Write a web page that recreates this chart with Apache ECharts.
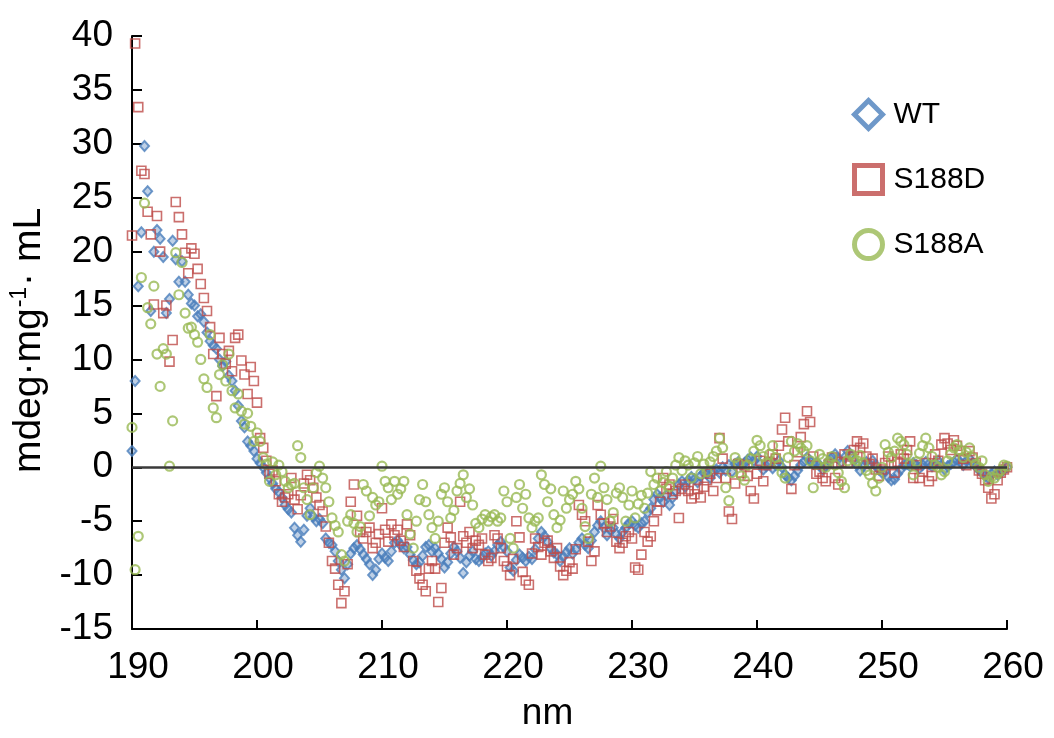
<!DOCTYPE html>
<html>
<head>
<meta charset="utf-8">
<script src="https://cdn.jsdelivr.net/npm/echarts@6/dist/echarts.min.js"></script>
<style>
html,body{margin:0;padding:0;background:#fff;}
#chart{width:1054px;height:738px;}
</style>
</head>
<body>
<div id="chart"></div>
<script>
// wavelength grid (nm): 190 to 260 in 0.25 nm steps
const waveStart = 190;
const waveStep = 0.25;
const seriesNames = ['WT', 'S188D', 'S188A'];
const xTicks = [190, 200, 210, 220, 230, 240, 250, 260];
const yTicks = [-15, -10, -5, 0, 5, 10, 15, 20, 25, 30, 35, 40];

// WT, one row per nm (x.00, x.25, x.50, x.75)
const wt = [
  1.5, 8.0, 16.8, 21.8,
  29.8, 25.6, 14.5, 20.0,
  22.0, 21.2, 19.5, 14.3,
  15.6, 21.0, 19.3, 17.2,
  19.1, 17.2, 16.0, 15.2,
  15.0, 14.0, 14.2, 13.5,
  12.5, 11.7, 11.3, 11.0,
  10.0, 9.4, 9.8, 8.5,
  8.0, 7.1, 5.7, 4.3,
  3.7, 2.4, 2.0, 1.5,
  0.8, 0.4, 0.0, -0.5,
  -1.0, -1.5, -2.0, -2.3,
  -2.8, -3.5, -3.9, -4.2,
  -5.6, -6.3, -6.9, -5.8,
  -4.5, -3.8, -4.6, -5.0,
  -4.8, -5.2, -6.6, -7.0,
  -7.2, -7.8, -8.7, -9.5,
  -10.3, -9.0, -8.0, -7.5,
  -7.2, -7.6, -8.1, -8.5,
  -9.0, -10.0, -9.5, -8.5,
  -8.0, -8.4, -8.7, -7.8,
  -7.0, -6.8, -7.2, -7.5,
  -7.4, -8.1, -8.6, -9.0,
  -8.8, -8.2, -7.4, -7.2,
  -7.8, -7.5, -8.0, -8.5,
  -9.3, -8.8, -8.0, -7.4,
  -7.8, -8.4, -9.8, -8.8,
  -8.2, -7.8, -8.5, -8.7,
  -8.4, -8.0, -7.8, -8.2,
  -7.8, -7.2, -6.9, -7.4,
  -7.8, -9.3, -9.6, -8.6,
  -8.1, -8.4, -8.7, -8.3,
  -8.5, -7.6, -6.6, -6.0,
  -6.4, -6.9, -7.5, -7.9,
  -8.1, -8.7, -8.3, -7.9,
  -7.5, -8.0, -7.6, -7.0,
  -6.6, -7.2, -7.5, -6.8,
  -6.0, -5.4, -5.0, -5.6,
  -6.3, -5.8, -5.6, -6.2,
  -6.6, -6.0, -5.6, -5.2,
  -5.0, -5.4, -5.6, -5.2,
  -5.0, -4.2, -3.8, -3.0,
  -2.5, -2.8, -3.2, -2.6,
  -3.5, -2.8, -2.2, -1.6,
  -1.3, -1.8, -1.2, -0.9,
  -1.1, -1.4, -0.8, -0.5,
  -0.6, -1.0, -0.4, -0.2,
  -0.5, 0.0, -0.3, 0.2,
  -0.4, 0.3, 0.5, 0.2,
  0.4, 0.7, 0.9, 0.6,
  1.0, 0.3, -0.2, 0.1,
  0.4, -0.1, 0.2, 0.6,
  0.0, -0.7, -1.0, -1.2,
  -0.8, -0.3, 0.2, 0.5,
  0.9, 0.6, 0.3, 0.4,
  0.2, -0.2, 0.1, 0.6,
  0.9, 1.2, 0.8, 0.5,
  0.9, 1.5, 1.1, 0.6,
  0.2, -0.3, 0.1, 0.5,
  0.3, 0.6, 0.2, -0.2,
  -0.5, -0.4, -0.9, -1.2,
  -1.1, -0.6, -0.2, 0.2,
  0.3, 0.1, 0.4, 0.2,
  -0.1, 0.2, 0.5, 0.3,
  0.1, 0.4, 0.6, 0.2,
  -0.2, 0.1, 0.3, 0.5,
  0.7, 0.5, 0.2, 0.6,
  0.8, 0.4, 0.1, -0.2,
  -0.5, -0.8, -1.0, -0.6,
  -0.4, -0.7, -0.5, -0.2,
  0.0
];

// S188D
const s188d = [
  21.5, 39.3, 33.4, 27.5,
  27.2, 23.7, 21.6, 15.1,
  23.3, 20.0, 14.3, 15.0,
  9.8, 11.8, 24.6, 23.2,
  21.6, 19.9, 18.0, 20.3,
  19.8, 18.4, 17.0, 15.7,
  14.5, 13.0, 10.5, 6.6,
  12.0, 10.5, 9.6, 10.8,
  8.9, 12.0, 12.3, 9.9,
  8.6, 6.8, 9.3, 8.0,
  6.0, 2.7, 1.8, 0.6,
  -0.6, -0.3, -1.3, -2.5,
  -3.2, -2.8, -2.5, -1.0,
  -3.0, -3.9, -2.6, -1.5,
  -0.7, -1.2, -1.9, -2.8,
  -3.5, -4.1, -5.5, -7.0,
  -8.7, -9.4, -10.9, -12.6,
  -11.5, -9.0, -3.2, -1.6,
  -4.5, -6.0, -6.6, -6.0,
  -5.6, -7.5, -7.0, -6.2,
  -3.8, -5.8, -6.9, -5.3,
  -6.3, -5.8, -6.8, -7.4,
  -5.3, -6.3, -8.7, -9.6,
  -10.3, -10.9, -11.5, -9.4,
  -8.7, -9.4, -12.5, -11.2,
  -7.0, -5.6, -6.5, -8.1,
  -7.5, -3.2, -6.4, -7.0,
  -6.0, -7.5, -6.8, -7.2,
  -6.6, -8.1, -8.7, -8.4,
  -6.3, -6.6, -7.5, -8.7,
  -9.2, -10.0, -8.5, -5.0,
  -6.5, -9.7, -10.5, -10.9,
  -8.0, -6.6, -7.4, -8.1,
  -7.0, -6.8, -7.8, -8.4,
  -7.5, -9.2, -10.0, -9.6,
  -8.8, -9.4, -7.6, -3.5,
  -4.4, -5.0, -6.9, -8.7,
  -7.8, -3.5, -4.4, -5.2,
  -6.0, -5.5, -4.8, -6.9,
  -7.5, -7.0, -6.4, -6.0,
  -6.6, -9.3, -9.5, -8.1,
  -6.0, -6.9, -6.4, -5.0,
  -4.0, -3.2, -1.0, -2.0,
  -1.6, -2.5, -2.2, -4.7,
  -2.0, -1.6, -2.2, -2.9,
  -2.5, -2.0, -2.8, -1.8,
  -1.2, -0.6, -2.2, -1.0,
  2.7, 0.8, -1.0, -4.1,
  -4.8, -1.5, 0.3, -0.5,
  0.2, -0.8, -2.2, -2.9,
  -0.6, 0.6, -1.3, 0.2,
  0.5, 1.2, 0.8, 2.0,
  3.5, 4.6, 2.4, -2.0,
  0.2, 1.4, 2.8, 4.0,
  5.2, 4.2, 1.0, -0.6,
  -0.4, -1.0, -1.3, 0.3,
  0.9, -1.0, -1.6, 0.5,
  1.2, 0.4, 1.0, 1.6,
  2.4, 1.8, 2.2, 1.0,
  0.3, 0.8, -0.2, -0.8,
  -0.2, 0.4, 1.0, 0.2,
  -0.5, 0.5, 1.2, 0.8,
  1.6, 2.4, -1.0, 0.2,
  -1.0, -0.4, 0.4, -1.3,
  -0.8, 1.2, 0.6, 2.1,
  2.7, 2.2, 1.6, 2.5,
  2.0, 1.5, 0.8, 0.2,
  1.5, 0.9, 0.4, -0.3,
  -0.6, -1.2, -1.9, -2.9,
  -2.5, -1.2, -0.5, -0.2,
  0.0
];

// S188A
const s188a = [
  3.7, -9.5, -6.4, 17.6,
  24.5, 14.8, 13.3, 16.8,
  10.5, 7.5, 11.0, 10.5,
  0.1, 4.3, 19.9, 16.0,
  19.0, 14.3, 12.9, 13.0,
  12.3, 11.6, 10.0, 8.2,
  7.4, 12.3, 5.5, 4.6,
  8.6, 9.5, 8.0, 10.5,
  7.1, 5.5, 6.8, 5.2,
  4.0, 5.0, 3.8, 2.4,
  3.2, 2.4, 0.9, 0.3,
  -1.3, 0.5, -0.7, 0.2,
  -0.4, -1.3, -1.9, -1.6,
  -1.5, 2.0, 0.9, -1.9,
  -3.0, -4.4, -1.9, -0.5,
  0.1, -1.0, -1.9, -3.2,
  -4.7, -5.4, -6.0, -8.1,
  -8.7, -5.0, -4.4, -5.2,
  -6.0, -5.5, -1.6, -2.2,
  -4.5, -2.8, -3.5, -3.2,
  0.1, -1.3, -1.9, -3.0,
  -1.3, -2.5, -2.0, -1.3,
  -4.4, -6.2, -7.5, -5.0,
  -3.0, -1.6, -3.2, -4.4,
  -5.6, -6.6, -5.0, -2.5,
  -1.9, -3.2, -4.7, -4.0,
  -2.2, -1.5, -0.7, -2.8,
  -2.0, -3.5, -5.2, -5.6,
  -4.8, -4.4, -5.0, -4.6,
  -4.4, -5.0, -4.7, -2.2,
  -3.2, -6.6, -7.5, -2.8,
  -1.6, -3.8, -2.5, -4.7,
  -5.6, -5.0, -4.7, -0.7,
  -1.6, -3.2, -2.0, -4.4,
  -5.6, -4.9, -2.2, -3.8,
  -3.0, -2.5, -1.3, -2.0,
  -3.8, -5.5, -6.6, -2.5,
  -1.0, -2.8, 0.1, -1.9,
  -3.0, -5.0, -4.2, -2.4,
  -1.9, -2.8, -5.0, -3.5,
  -2.2, -4.7, -3.4, -2.6,
  -3.8, -2.4, -0.4, -1.6,
  -1.0, -2.2, -1.4, -0.4,
  -1.8, -1.0, 0.2, 0.9,
  -0.3, 0.6, 0.2, -1.0,
  0.4, 1.0, -0.6, 0.3,
  -0.4, 0.5, 1.0, 1.5,
  2.7, 1.8, -1.9, -3.1,
  -0.5, 0.9, 0.4, -0.8,
  -1.2, 0.2, 0.8, 1.5,
  2.5, 2.0, 1.0, 0.4,
  1.2, 2.0, 0.9, 0.2,
  -0.5, -1.0, 0.9, 2.4,
  1.5, 2.2, 1.8, 1.5,
  2.0, 0.6, -1.9, 0.3,
  1.2, 0.8, 0.0, 0.5,
  1.0, 0.2, -0.5, -1.3,
  -1.9, 0.6, 1.2, 0.8,
  0.6, 1.1, 0.4, -0.3,
  -0.7, -1.5, -2.2, -1.0,
  0.0, 2.1, 1.4, 0.9,
  1.5, 2.7, 2.4, 2.1,
  1.2, 0.3, -0.7, 0.5,
  1.3, 2.0, 2.7, 1.8,
  1.0, 0.2, 0.0, -0.7,
  -0.4, 0.6, 1.2, 1.8,
  2.1, 1.6, 0.9, 1.4,
  1.8, 0.9, 0.3, 0.0,
  0.6, -0.7, -1.3, -0.9,
  -1.0, -0.6, -0.3, 0.2,
  0.1
];

const colors = ['#4A7EBB', '#BE4B48', '#98B954'];
const toPairs = arr => arr.map((v, i) => [waveStart + i * waveStep, v]);
const FONT = 'Liberation Sans, Arial, sans-serif';

const chart = echarts.init(document.getElementById('chart'), null, { renderer: 'canvas' });
chart.setOption({
  animation: false,
  backgroundColor: '#fff',
  grid: { left: 132, right: 47, top: 36, bottom: 109, containLabel: false },
  legend: {
    orient: 'vertical',
    left: 852,
    top: 98,
    itemWidth: 28,
    itemHeight: 28,
    itemGap: 32,
    padding: 0,
    textStyle: { fontSize: 30, color: '#000', fontFamily: FONT, padding: [0, 0, 0, 6] },
    data: [
      { name: seriesNames[0], icon: 'diamond', itemStyle: { color: '#fff', borderColor: colors[0], borderWidth: 5 } },
      { name: seriesNames[1], icon: 'rect', itemStyle: { color: '#fff', borderColor: colors[1], borderWidth: 5 } },
      { name: seriesNames[2], icon: 'circle', itemStyle: { color: '#fff', borderColor: colors[2], borderWidth: 5 } }
    ]
  },
  xAxis: {
    type: 'value',
    min: xTicks[0],
    max: xTicks[xTicks.length - 1],
    interval: 10,
    name: 'nm',
    nameLocation: 'middle',
    nameGap: 66,
    nameTextStyle: { fontSize: 37, color: '#000', fontFamily: FONT, padding: [0, 44, 0, 0] },
    axisLine: { onZero: false, lineStyle: { color: '#000', width: 2 } },
    axisTick: { inside: true, length: 9, lineStyle: { color: '#000', width: 2 } },
    axisLabel: { fontSize: 37, color: '#000', fontFamily: FONT, margin: 20, padding: [0, 0, 0, 12] },
    splitLine: { show: false }
  },
  yAxis: {
    type: 'value',
    min: yTicks[0],
    max: yTicks[yTicks.length - 1],
    interval: 5,
    name: '{a|mdeg\u00B7mg}{s|-1}{a|\u00B7 mL}',
    nameLocation: 'middle',
    nameRotate: 90,
    nameGap: 78,
    nameTextStyle: {
      color: '#000',
      fontFamily: FONT,
      padding: [0, 16, 0, 0],
      rich: {
        a: { fontSize: 39, color: '#000', fontFamily: FONT },
        s: { fontSize: 23, color: '#000', fontFamily: FONT, padding: [0, 1, 19, 1] }
      }
    },
    axisLine: { lineStyle: { color: '#000', width: 2 } },
    axisTick: { inside: true, length: 10, lineStyle: { color: '#000', width: 2 } },
    axisLabel: { fontSize: 37, color: '#000', fontFamily: FONT, margin: 19, padding: [0, 0, 6, 0] },
    splitLine: { show: false }
  },
  series: [
    {
      name: seriesNames[0],
      type: 'scatter',
      symbol: 'diamond',
      symbolSize: [9, 10],
      data: toPairs(wt),
      itemStyle: { color: 'rgba(74,126,187,0.45)', borderColor: colors[0], borderWidth: 2 },
      markLine: {
        silent: true,
        symbol: 'none',
        label: { show: false },
        lineStyle: { color: '#3a3a3a', width: 2.5, type: 'solid' },
        data: [{ yAxis: 0 }]
      },
      z: 2
    },
    {
      name: seriesNames[1],
      type: 'scatter',
      symbol: 'rect',
      symbolSize: 9,
      data: toPairs(s188d),
      itemStyle: { color: 'rgba(255,255,255,0)', borderColor: colors[1], borderWidth: 1.6 },
      z: 3
    },
    {
      name: seriesNames[2],
      type: 'scatter',
      symbol: 'circle',
      symbolSize: 9,
      data: toPairs(s188a),
      itemStyle: { color: 'rgba(255,255,255,0)', borderColor: colors[2], borderWidth: 2.2 },
      z: 4
    }
  ]
});
</script>
</body>
</html>
